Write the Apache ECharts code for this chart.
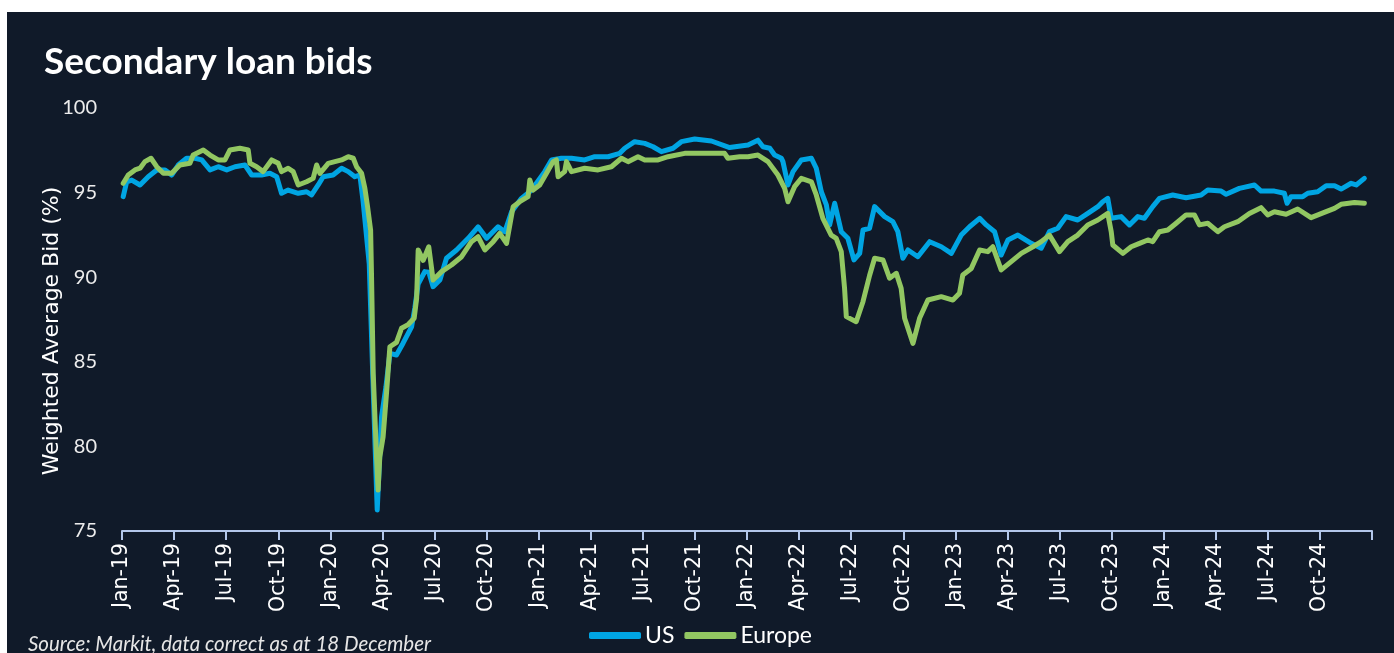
<!DOCTYPE html>
<html>
<head>
<meta charset="utf-8">
<script src="https://cdn.jsdelivr.net/npm/echarts@6/dist/echarts.min.js"></script>
<style>
  html, body { margin: 0; padding: 0; background: #ffffff; width: 1394px; height: 653px; overflow: hidden; }
  #chart { position: absolute; left: 7px; top: 12px; width: 1387px; height: 641px; background: #101a29; }
</style>
</head>
<body>
<div id="chart"></div>
<script>
// x values: months since Jan 2019 (0 = 1 Jan 2019)
const xTickLabels = ['Jan-19','Apr-19','Jul-19','Oct-19','Jan-20','Apr-20','Jul-20','Oct-20',
  'Jan-21','Apr-21','Jul-21','Oct-21','Jan-22','Apr-22','Jul-22','Oct-22',
  'Jan-23','Apr-23','Jul-23','Oct-23','Jan-24','Apr-24','Jul-24','Oct-24'];

const usMonths = [0.07,0.27,0.56,1.04,1.51,2.00,2.48,2.86,3.24,3.72,4.20,4.59,5.07,5.54,6.03,6.51,7.08,7.47,8.04,8.52,8.91,9.19,9.57,10.15,10.63,10.92,11.30,11.59,12.16,12.65,13.03,13.41,13.70,13.89,14.24,14.45,14.70,14.95,15.20,15.43,15.81,16.19,16.68,16.87,17.06,17.44,17.67,17.92,18.31,18.69,19.27,19.94,20.51,21.00,21.66,22.05,22.44,23.01,23.59,24.35,24.74,25.31,25.89,26.65,27.23,28.00,28.67,28.96,29.53,30.11,30.59,31.07,31.74,32.22,32.99,33.95,35.00,36.06,36.63,36.92,37.31,37.59,37.98,38.07,38.36,38.65,39.13,39.71,39.99,40.28,40.57,40.76,41.05,41.43,41.81,42.16,42.49,42.68,43.06,43.35,43.93,44.40,44.69,44.98,45.27,45.84,46.52,47.19,47.77,48.34,48.82,49.40,49.78,50.26,50.64,51.03,51.60,52.37,52.95,53.42,53.90,54.38,55.05,55.63,56.21,56.49,56.78,56.98,57.55,58.03,58.51,58.89,59.37,59.76,60.52,61.29,62.16,62.54,63.31,63.60,64.36,65.23,65.61,66.38,66.95,67.11,67.34,68.01,68.30,68.87,69.36,69.84,70.22,70.80,71.09,71.56];
const usValues = [94.76,95.64,95.74,95.45,95.94,96.34,96.34,96.04,96.63,97.03,97.03,96.93,96.34,96.53,96.34,96.53,96.63,96.04,96.04,96.14,95.94,94.96,95.15,94.96,95.05,94.86,95.45,95.94,96.04,96.44,96.24,95.94,96.04,94.46,90.8,84.0,76.24,81.76,83.5,85.5,85.4,86.1,87.07,88.2,89.6,90.33,90.3,89.44,89.83,91.12,91.61,92.3,92.98,92.3,92.98,92.69,93.87,94.66,95.15,96.24,96.93,97.03,97.03,96.93,97.12,97.12,97.32,97.62,98.01,97.91,97.71,97.42,97.62,98.01,98.17,98.05,97.66,97.81,98.1,97.71,97.62,97.22,97.03,96.83,95.45,96.24,96.93,97.03,96.44,95.05,94.27,93.09,94.37,92.69,92.3,91.02,91.41,92.79,92.89,94.17,93.58,93.28,92.69,91.12,91.61,91.21,92.10,91.80,91.41,92.49,92.98,93.48,93.09,92.69,91.31,92.2,92.49,92.0,91.71,92.69,92.89,93.58,93.38,93.77,94.17,94.46,94.66,93.48,93.58,93.09,93.58,93.48,94.17,94.66,94.86,94.70,94.86,95.15,95.09,94.90,95.25,95.45,95.09,95.09,94.96,94.37,94.76,94.76,94.96,95.05,95.41,95.41,95.21,95.55,95.45,95.84];

const euMonths = [0.07,0.36,0.75,1.04,1.32,1.67,2.00,2.38,2.86,3.34,3.91,4.10,4.68,5.07,5.54,5.93,6.22,6.79,7.27,7.37,7.75,8.13,8.62,9.00,9.19,9.57,9.86,10.15,10.63,11.01,11.21,11.40,11.88,12.26,12.65,13.03,13.32,13.51,13.80,13.99,14.14,14.32,14.37,14.47,14.66,14.75,14.85,15.04,15.24,15.43,15.81,16.10,16.48,16.83,16.97,17.06,17.35,17.67,17.92,18.41,18.98,19.56,20.13,20.51,20.90,21.38,21.76,22.15,22.53,22.91,23.39,23.49,23.68,24.06,24.45,24.83,25.02,25.12,25.50,25.60,25.89,26.65,27.42,28.19,28.77,29.15,29.72,30.11,30.88,31.45,32.41,33.37,34.71,34.90,35.58,36.06,36.63,37.21,37.78,38.17,38.36,38.74,39.13,39.71,39.99,40.37,40.85,41.14,41.43,41.62,41.72,42.29,42.68,43.06,43.35,43.83,44.21,44.60,44.88,45.08,45.56,45.94,46.42,47.19,47.86,48.24,48.43,48.92,49.40,49.87,50.16,50.64,51.22,51.80,52.47,52.95,53.42,54.00,54.48,55.05,55.63,56.21,56.78,56.98,57.07,57.65,58.13,58.61,59.09,59.37,59.76,60.24,60.72,61.29,61.77,62.06,62.54,63.12,63.50,64.27,64.94,65.61,65.99,66.38,67.05,67.72,68.49,69.25,69.84,70.22,70.99,71.56];
const euValues = [95.55,96.04,96.34,96.44,96.83,97.03,96.53,96.14,96.14,96.63,96.73,97.22,97.52,97.22,96.93,96.93,97.52,97.62,97.52,96.73,96.53,96.24,96.93,96.73,96.24,96.44,96.24,95.45,95.64,95.84,96.63,96.14,96.73,96.83,96.93,97.12,97.03,96.53,96.14,95.25,94.2,92.79,90.23,84.32,79.39,77.42,79.39,80.57,83.2,85.89,86.15,86.98,87.2,87.57,88.75,91.61,91.0,91.80,89.83,90.33,90.72,91.21,92.10,92.39,91.61,92.10,92.59,92.0,94.17,94.46,94.76,95.74,95.15,95.45,96.14,96.83,96.93,95.94,96.24,96.83,96.24,96.44,96.34,96.53,97.03,96.83,97.12,96.93,96.93,97.12,97.32,97.32,97.32,97.03,97.12,97.12,97.22,96.83,96.04,95.25,94.46,95.35,95.84,95.64,94.86,93.48,92.49,92.3,91.51,89.34,87.67,87.37,88.55,90.1,91.12,91.02,89.94,90.23,89.34,87.57,86.09,87.57,88.65,88.85,88.65,89.05,90.13,90.52,91.61,91.51,91.80,90.43,90.92,91.41,91.80,92.10,92.49,91.51,92.10,92.49,93.09,93.38,93.77,92.69,91.90,91.41,91.80,92.0,92.2,92.1,92.69,92.79,93.19,93.68,93.68,93.09,93.19,92.69,92.98,93.28,93.77,94.11,93.68,93.87,93.72,94.03,93.52,93.83,94.07,94.31,94.42,94.37];

const yTicks = { min: 75, max: 100, step: 5 };
const seriesNames = ['US', 'Europe'];
const colors = ['#00a5e3', '#92c762'];

function pairs(xs, ys) { return xs.map((x, i) => [x, ys[i]]); }

const chart = echarts.init(document.getElementById('chart'), null, { renderer: 'canvas' });
chart.setOption({
  backgroundColor: '#101a29',
  animation: false,
  title: {
    text: 'Secondary loan bids',
    left: 32, top: 27,
    textStyle: { color: '#ffffff', fontFamily: 'Lato', fontWeight: 'bold', fontSize: 37 }
  },
  graphic: [{
    type: 'text', left: 21, top: 622,
    style: { text: 'Source: Markit, data correct as at 18 December', fill: '#e6e6e6',
      font: 'italic 20.5px Lato' }
  }, {
    type: 'text', x: 45, y: 319, rotation: Math.PI / 2,
    style: { text: 'Weighted Average Bid (%)', fill: '#ffffff', font: '22px "DejaVu Sans"',
      align: 'center', verticalAlign: 'middle' }
  }],
  legend: {
    data: seriesNames,
    bottom: 1, left: 'center',
    icon: 'roundRect', itemWidth: 52, itemHeight: 7, itemGap: 10,
    textStyle: { color: '#ffffff', fontFamily: 'Lato', fontSize: 23, padding: [0, 0, 0, -1] }
  },
  grid: { left: 115, right: 22, top: 96, bottom: 122, containLabel: false },
  xAxis: {
    type: 'value', min: 0, max: 72, interval: 3,
    axisLine: { show: true, lineStyle: { color: '#b3c7ea', width: 2 } },
    axisTick: { show: true, length: 9, lineStyle: { color: '#b3c7ea', width: 2 } },
    splitLine: { show: false },
    axisLabel: {
      rotate: 90, margin: 12, color: '#ffffff', fontFamily: 'DejaVu Sans', fontSize: 20.5,
      formatter: v => xTickLabels[Math.round(v / 3)] || ''
    }
  },
  yAxis: {
    type: 'value', min: yTicks.min, max: yTicks.max, interval: yTicks.step,
    axisLine: { show: false }, axisTick: { show: false },
    splitLine: { show: false },
    axisLabel: { color: '#ececec', fontFamily: 'Lato', fontSize: 20, margin: 25 }
  },
  series: [
    { name: seriesNames[0], type: 'line', data: pairs(usMonths, usValues), showSymbol: false,
      color: colors[0], lineStyle: { width: 5, color: colors[0], join: 'round', cap: 'round' } },
    { name: seriesNames[1], type: 'line', data: pairs(euMonths, euValues), showSymbol: false,
      color: colors[1], lineStyle: { width: 5, color: colors[1], join: 'round', cap: 'round' } }
  ]
});
</script>
</body>
</html>
